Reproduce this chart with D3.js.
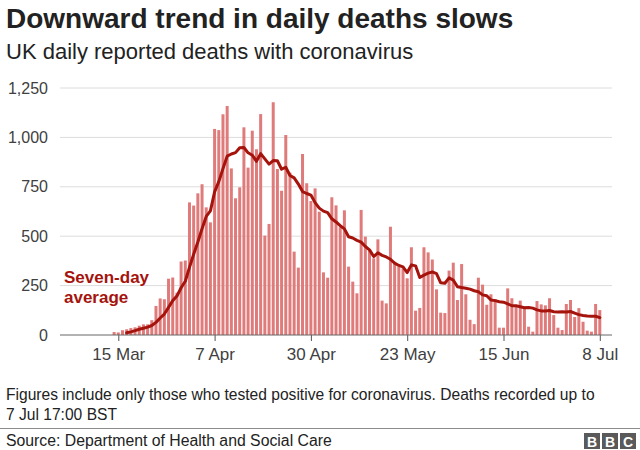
<!DOCTYPE html>
<html>
<head>
<meta charset="utf-8">
<script src="https://cdn.jsdelivr.net/npm/d3@7"></script>
<style>
  html, body { margin: 0; padding: 0; background: #fff; }
  svg { display: block; font-family: "Liberation Sans", Arial, Helvetica, sans-serif; }
</style>
</head>
<body>
<svg id="chart" width="640" height="450"></svg>
<script>
// ---------- DATA ----------
const title = "Downward trend in daily deaths slows";
const subtitle = "UK daily reported deaths with coronavirus";
const footnote = ["Figures include only those who tested positive for coronavirus. Deaths recorded up to", "7 Jul 17:00 BST"];
const source = "Source: Department of Health and Social Care";

// daily reported deaths, first bar = 14 Mar 2020, one value per day to 8 Jul 2020
const barStart = "2020-03-14";
const deaths = [
  15, 13, 24, 29, 35, 39, 47, 54, 54, 75,
  147, 185, 181, 285, 291, 214, 372, 377, 671, 655,
  717, 763, 646, 570, 1043, 1037, 1117, 1159, 843, 692,
  747, 1051, 847, 1034, 940, 1118, 503, 562, 1178, 840,
  730, 1012, 822, 422, 341, 916, 768, 678, 742, 624,
  317, 290, 697, 656, 545, 631, 346, 270, 211, 633,
  498, 430, 388, 484, 174, 160, 548, 363, 346, 337,
  287, 444, 123, 137, 444, 418, 382, 231, 113, 111,
  326, 366, 177, 359, 206, 77, 55, 290, 255, 153,
  206, 182, 37, 37, 236, 186, 150, 174, 145, 42,
  17, 172, 155, 150, 186, 101, 37, 25, 157, 177,
  91, 136, 67, 22, 17, 157, 126
];

// seven-day average, first point = 17 Mar 2020
const avgStart = "2020-03-17";
const sevenDayAvg = [
  11, 16, 22, 29, 34, 40, 48, 64, 86, 106,
  140, 174, 197, 239, 272, 342, 409, 471, 538, 600,
  628, 724, 776, 842, 905, 916, 923, 948, 949, 922,
  910, 879, 918, 891, 865, 883, 882, 839, 849, 807,
  795, 764, 726, 716, 708, 670, 642, 627, 619, 588,
  572, 553, 537, 497, 491, 479, 470, 448, 431, 397,
  416, 403, 395, 383, 364, 352, 345, 316, 355, 350,
  291, 303, 313, 319, 311, 264, 262, 289, 278, 244,
  240, 237, 232, 224, 219, 203, 199, 177, 174, 168,
  166, 158, 148, 148, 143, 138, 139, 136, 127, 122,
  122, 124, 118, 117, 118, 116, 119, 111, 103, 99,
  96, 95, 95, 88
];

const yTicks = [0, 250, 500, 750, 1000, 1250];
const xTickDates = ["2020-03-15", "2020-04-07", "2020-04-30", "2020-05-23", "2020-06-15", "2020-07-08"];
const xTickLabels = ["15 Mar", "7 Apr", "30 Apr", "23 May", "15 Jun", "8 Jul"];
const lineLabel = ["Seven-day", "average"];

// ---------- DRAW ----------
const parse = d3.utcParse("%Y-%m-%d");
const barDates = deaths.map((v, i) => d3.utcDay.offset(parse(barStart), i));
const avgDates = sevenDayAvg.map((v, i) => d3.utcDay.offset(parse(avgStart), i));

const svg = d3.select("#chart");
const plotLeft = 60, plotRight = 612;

const x = d3.scaleUtc()
  .domain([parse("2020-03-15"), parse("2020-07-08")])
  .range([118.3, 599.8]);
const y = d3.scaleLinear().domain([0, 1250]).range([335, 88]);

const barW = 3.0;
const textCol = "#404040";

// title & subtitle
svg.append("text").attr("x", 6).attr("y", 28)
  .attr("font-size", 28).attr("font-weight", "bold").attr("fill", "#222")
  .text(title);
svg.append("text").attr("x", 6).attr("y", 59)
  .attr("font-size", 22).attr("fill", "#222")
  .text(subtitle);

// gridlines
svg.append("g").selectAll("line").data(yTicks.filter(t => t > 0)).join("line")
  .attr("x1", plotLeft).attr("x2", plotRight)
  .attr("y1", d => y(d)).attr("y2", d => y(d))
  .attr("stroke", "#dcdcdc").attr("stroke-width", 1);

// y labels
svg.append("g").selectAll("text").data(yTicks).join("text")
  .attr("x", 48).attr("y", d => y(d) + 5.5)
  .attr("text-anchor", "end").attr("font-size", 16).attr("fill", textCol)
  .text(d => d3.format(",")(d));

// bars
svg.append("g").selectAll("rect").data(deaths).join("rect")
  .attr("x", (d, i) => x(barDates[i]) - barW / 2)
  .attr("width", barW)
  .attr("y", d => y(d))
  .attr("height", d => y(0) - y(d))
  .attr("fill", "#e07b7b");

// x axis
const xAxis = d3.axisBottom(x)
  .tickValues(xTickDates.map(parse))
  .tickFormat((d, i) => xTickLabels[i])
  .tickSize(6).tickSizeOuter(0);
const gx = svg.append("g").attr("transform", `translate(0,${y(0)})`).call(xAxis);
gx.select(".domain").remove();
gx.selectAll(".tick line").attr("stroke", "#555");
gx.selectAll(".tick text").attr("font-size", 17).attr("fill", textCol)
  .attr("font-family", "Liberation Sans, Arial, sans-serif").attr("dy", "0.95em");
svg.append("line").attr("x1", plotLeft).attr("x2", plotRight)
  .attr("y1", y(0)).attr("y2", y(0)).attr("stroke", "#666").attr("stroke-width", 1);

// seven-day average line
const line = d3.line().x((d, i) => x(avgDates[i])).y(d => y(d)).curve(d3.curveLinear);
svg.append("path").datum(sevenDayAvg)
  .attr("d", line).attr("fill", "none")
  .attr("stroke", "#a5130d").attr("stroke-width", 3)
  .attr("stroke-linejoin", "round").attr("stroke-linecap", "round");

// line label (two separate text lines)
svg.append("g").selectAll("text").data(lineLabel).join("text")
  .attr("x", 64).attr("y", (d, i) => 283 + i * 19.5)
  .attr("font-size", 17).attr("font-weight", "bold").attr("fill", "#a5130d")
  .text(d => d);

// footnote
svg.append("g").selectAll("text").data(footnote).join("text")
  .attr("x", 6).attr("y", (d, i) => 400 + i * 20)
  .attr("font-size", 15.6).attr("fill", "#222")
  .text(d => d);

// separator
svg.append("line").attr("x1", 0).attr("x2", 640).attr("y1", 428.5).attr("y2", 428.5)
  .attr("stroke", "#8c8c8c").attr("stroke-width", 1);

// source
svg.append("text").attr("x", 6).attr("y", 446)
  .attr("font-size", 15.8).attr("fill", "#222").text(source);

// BBC logo
const logo = svg.append("g").attr("transform", "translate(584,433)");
["B", "B", "C"].forEach((ch, i) => {
  logo.append("rect").attr("x", i * 18).attr("y", 0).attr("width", 16).attr("height", 16).attr("fill", "#5a5a5a");
  logo.append("text").attr("x", i * 18 + 8).attr("y", 13.5).attr("text-anchor", "middle")
    .attr("font-size", 14).attr("font-weight", "bold").attr("fill", "#fff").text(ch);
});
</script>
</body>
</html>
